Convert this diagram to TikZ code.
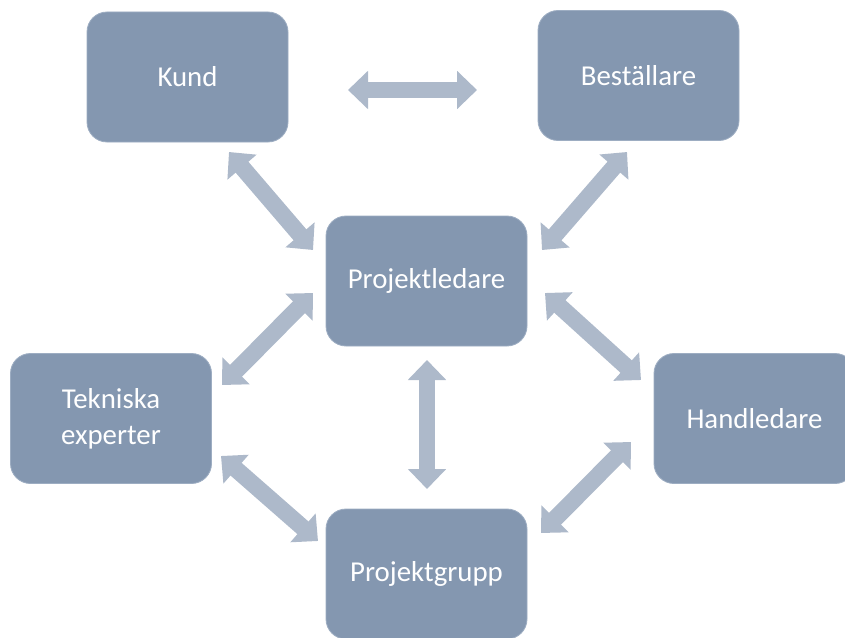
\documentclass[tikz,border=0pt]{standalone}
\usepackage{fontspec}
\setmainfont{Carlito}
\usetikzlibrary{arrows.meta}
\definecolor{boxfill}{HTML}{8497B0}
\definecolor{boxline}{HTML}{9DADC2}
\definecolor{arrfill}{HTML}{ADB9CA}
\begin{document}
\begin{tikzpicture}[x=0.025cm,y=-0.025cm,
  rolebox/.style={draw=boxline, line width=0.6pt, fill=boxfill, rounded corners=0.5cm,
    minimum width=201*0.025cm, minimum height=130*0.025cm, inner sep=0pt,
    text=white, font=\fontsize{20.5}{25.5}\selectfont, align=center},
  blockarrow/.style={draw=arrfill, line width=0.42cm,
    {Triangle[width=0.93cm,length=0.5cm]}-{Triangle[width=0.93cm,length=0.5cm]}}]
\useasboundingbox (0,0) rectangle (845,637);
\clip (0,0) rectangle (845,637);
\node[rolebox] (kund) at (187.5,77) {Kund};
\node[rolebox] (best) at (638.5,75.5) {Beställare};
\node[rolebox] (pl) at (426.5,281) {Projektledare};
\node[rolebox] (tek) at (111,418.5) {Tekniska\\experter};
\node[rolebox] (hand) at (754.5,418.5) {Handledare};
\node[rolebox] (pg) at (426.5,574) {Projektgrupp};
% arrow end points
\coordinate (a1) at (348,90);  \coordinate (a2) at (477,90);
\coordinate (b1) at (229,152); \coordinate (b2) at (313,250);
\coordinate (c1) at (627,152); \coordinate (c2) at (542,250);
\coordinate (d1) at (313,293); \coordinate (d2) at (222,385);
\coordinate (e1) at (545,293); \coordinate (e2) at (641,380);
\coordinate (f1) at (427,360); \coordinate (f2) at (427,489);
\coordinate (g1) at (221,456); \coordinate (g2) at (318,541);
\coordinate (h1) at (631,442); \coordinate (h2) at (541,533);
\draw[blockarrow] (a1) -- (a2);
\draw[blockarrow] (b1) -- (b2);
\draw[blockarrow] (c1) -- (c2);
\draw[blockarrow] (d1) -- (d2);
\draw[blockarrow] (e1) -- (e2);
\draw[blockarrow] (f1) -- (f2);
\draw[blockarrow] (g1) -- (g2);
\draw[blockarrow] (h1) -- (h2);
\end{tikzpicture}
\end{document}
